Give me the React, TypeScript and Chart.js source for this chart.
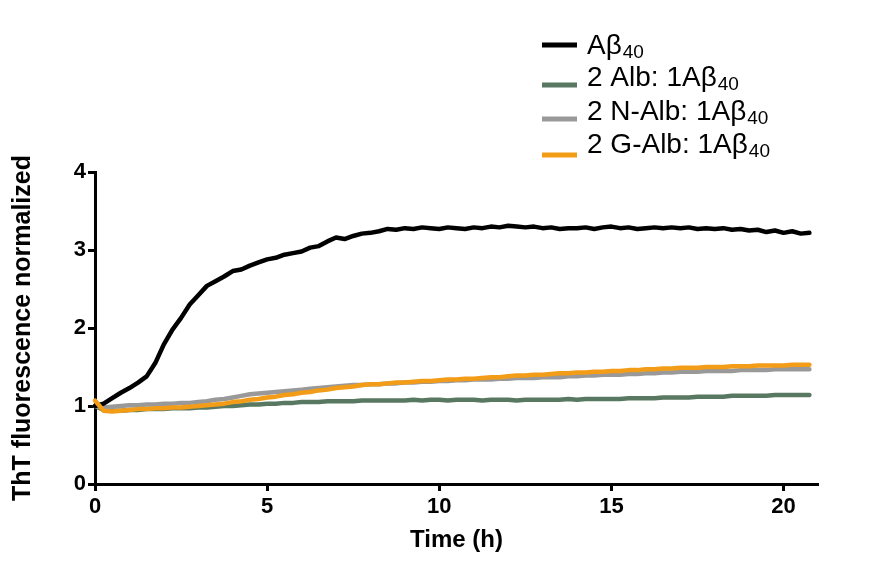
import React, { useEffect, useRef } from "react";
import { Chart, registerables } from "chart.js";

Chart.register(...registerables);

// Time (h)
const times = [
  0, 0.25, 0.5, 0.75, 1, 1.25, 1.5, 1.75, 2, 2.25, 2.5, 2.75, 3, 3.25, 3.5, 3.75,
  4, 4.25, 4.5, 4.75, 5, 5.25, 5.5, 5.75, 6, 6.25, 6.5, 6.75, 7, 7.25, 7.5, 7.75,
  8, 8.25, 8.5, 8.75, 9, 9.25, 9.5, 9.75, 10, 10.25, 10.5, 10.75, 11, 11.25, 11.5, 11.75,
  12, 12.25, 12.5, 12.75, 13, 13.25, 13.5, 13.75, 14, 14.25, 14.5, 14.75, 15, 15.25, 15.5, 15.75,
  16, 16.25, 16.5, 16.75, 17, 17.25, 17.5, 17.75, 18, 18.25, 18.5, 18.75, 19, 19.25, 19.5, 19.75,
  20, 20.25, 20.5, 20.75,
];

const abeta40 = [
  1.0, 1.03, 1.1, 1.17, 1.23, 1.3, 1.38, 1.55, 1.79, 1.98, 2.13, 2.3, 2.42, 2.54, 2.6, 2.66,
  2.73, 2.75, 2.8, 2.84, 2.88, 2.9, 2.94, 2.96, 2.98, 3.03, 3.05, 3.11, 3.16, 3.14, 3.18, 3.21,
  3.22, 3.24, 3.27, 3.26, 3.28, 3.27, 3.29, 3.28, 3.27, 3.29, 3.28, 3.27, 3.29, 3.28, 3.3, 3.29,
  3.31, 3.3, 3.29, 3.3, 3.28, 3.29, 3.27, 3.28, 3.28, 3.29, 3.27, 3.29, 3.3, 3.28, 3.29, 3.27,
  3.28, 3.29, 3.28, 3.29, 3.28, 3.29, 3.27, 3.28, 3.27, 3.28, 3.26, 3.27, 3.25, 3.26, 3.23, 3.25,
  3.22, 3.24, 3.21, 3.22,
];

const alb = [
  1.0, 0.95, 0.94, 0.94, 0.95, 0.95, 0.96, 0.96, 0.96, 0.97, 0.97, 0.97, 0.98, 0.98, 0.99, 1.0,
  1.0, 1.01, 1.02, 1.02, 1.03, 1.03, 1.04, 1.04, 1.05, 1.05, 1.05, 1.06, 1.06, 1.06, 1.06, 1.07,
  1.07, 1.07, 1.07, 1.07, 1.07, 1.08, 1.07, 1.08, 1.08, 1.07, 1.08, 1.08, 1.08, 1.07, 1.08, 1.08,
  1.08, 1.07, 1.08, 1.08, 1.08, 1.08, 1.08, 1.09, 1.08, 1.09, 1.09, 1.09, 1.09, 1.09, 1.1, 1.1,
  1.1, 1.1, 1.11, 1.11, 1.11, 1.11, 1.12, 1.12, 1.12, 1.12, 1.13, 1.13, 1.13, 1.13, 1.13, 1.14,
  1.14, 1.14, 1.14, 1.14,
];

const nAlb = [
  1.0, 0.98, 0.99, 1.0, 1.01, 1.01, 1.02, 1.02, 1.03, 1.03, 1.04, 1.04, 1.05, 1.06, 1.08, 1.09,
  1.11, 1.13, 1.15, 1.16, 1.17, 1.18, 1.19, 1.2, 1.21, 1.22, 1.23, 1.24, 1.25, 1.26, 1.27, 1.27,
  1.28, 1.28, 1.29, 1.29, 1.3, 1.3, 1.31, 1.31, 1.32, 1.32, 1.33, 1.33, 1.34, 1.34, 1.34, 1.35,
  1.35, 1.36, 1.36, 1.36, 1.37, 1.37, 1.37, 1.38, 1.38, 1.39, 1.39, 1.4, 1.4, 1.4, 1.41, 1.41,
  1.42, 1.42, 1.43, 1.43, 1.44, 1.44, 1.44, 1.45, 1.45, 1.45, 1.45, 1.46, 1.46, 1.46, 1.46, 1.47,
  1.47, 1.47, 1.47, 1.47,
];

const gAlb = [
  1.07, 0.94, 0.93, 0.94, 0.95, 0.96, 0.96, 0.97, 0.97, 0.98, 0.98, 0.99, 1.0, 1.01, 1.02, 1.03,
  1.05, 1.06, 1.08, 1.09, 1.11, 1.12, 1.14, 1.15, 1.17, 1.18, 1.2, 1.21, 1.23, 1.24, 1.25, 1.27,
  1.28, 1.28, 1.29, 1.3, 1.3, 1.31, 1.32, 1.32, 1.33, 1.34, 1.34, 1.35, 1.35, 1.36, 1.37, 1.37,
  1.38, 1.39, 1.39, 1.4, 1.4, 1.41, 1.42, 1.42, 1.43, 1.43, 1.44, 1.44, 1.45, 1.45, 1.46, 1.46,
  1.47, 1.47, 1.48, 1.48, 1.49, 1.49, 1.49, 1.5, 1.5, 1.5, 1.51, 1.51, 1.51, 1.52, 1.52, 1.52,
  1.52, 1.53, 1.53, 1.53,
];

const seriesLabels = ["Aβ", "2 Alb: 1Aβ", "2 N-Alb: 1Aβ", "2 G-Alb: 1Aβ"];
const seriesSubscripts = ["40", "40", "40", "40"];
const seriesColors = ["#000000", "#597862", "#999999", "#f39c17"];
const xTitle = "Time (h)";
const yTitle = "ThT fluorescence normalized";

const FONT = '"Liberation Sans", Arial, Helvetica, sans-serif';

const subLegend = {
  id: "subLegend",
  afterDraw(chart: any) {
    const ctx = chart.ctx;
    const lineY = [45, 85, 119, 155];
    const baseY = [54, 86, 120, 153];
    ctx.save();
    seriesLabels.forEach((lab, i) => {
      ctx.strokeStyle = seriesColors[i];
      ctx.lineWidth = 5;
      ctx.lineCap = "butt";
      ctx.beginPath();
      ctx.moveTo(542, lineY[i]);
      ctx.lineTo(577, lineY[i]);
      ctx.stroke();
      ctx.fillStyle = "#000";
      ctx.textAlign = "left";
      ctx.textBaseline = "alphabetic";
      ctx.font = `28px ${FONT}`;
      ctx.fillText(lab, 587, baseY[i]);
      const w = ctx.measureText(lab).width;
      ctx.font = `19px ${FONT}`;
      ctx.fillText(seriesSubscripts[i], 587 + w + 1, baseY[i] + 4);
    });
    ctx.restore();
  },
};

export default function App() {
  const ref = useRef<HTMLCanvasElement | null>(null);

  useEffect(() => {
    if (!ref.current) return;
    const series = [abeta40, alb, nAlb, gAlb];
    const orders = [1, 3, 2, 0];
    const chart = new Chart(ref.current, {
      type: "line",
      data: {
        datasets: series.map((vals, si) => ({
          label: seriesLabels[si] + seriesSubscripts[si],
          data: times.map((t, i) => ({ x: t, y: vals[i] })),
          borderColor: seriesColors[si],
          backgroundColor: seriesColors[si],
          borderWidth: 4.5,
          pointRadius: 0,
          tension: 0,
          fill: false,
          clip: false as any,
          order: orders[si],
          borderJoinStyle: "round" as const,
          borderCapStyle: "round" as const,
        })),
      },
      options: {
        responsive: false,
        animation: false,
        devicePixelRatio: 1,
        layout: { padding: { top: 172, right: 57, bottom: 0, left: 0 } },
        plugins: { legend: { display: false }, tooltip: { enabled: false } },
        scales: {
          x: {
            type: "linear",
            min: 0,
            max: 21,
            afterFit: (s: any) => {
              s.height = 88;
            },
            ticks: {
              stepSize: 5,
              includeBounds: false,
              color: "#000",
              padding: 3,
              maxRotation: 0,
              font: { family: FONT, size: 22, weight: "bold" },
            },
            grid: {
              display: true,
              drawOnChartArea: false,
              drawTicks: true,
              tickLength: 7,
              tickWidth: 3,
              tickColor: "#000",
              color: "#000",
            },
            border: { display: true, color: "#000", width: 3 },
            title: {
              display: true,
              text: xTitle,
              color: "#000",
              font: { family: FONT, size: 24, weight: "bold" },
              padding: { top: 0, bottom: 17 },
            },
          },
          y: {
            type: "linear",
            min: 0,
            max: 4,
            afterFit: (s: any) => {
              s.width = 95;
            },
            ticks: {
              stepSize: 1,
              color: "#000",
              padding: 2,
              font: { family: FONT, size: 22, weight: "bold" },
            },
            grid: {
              display: true,
              drawOnChartArea: false,
              drawTicks: true,
              tickLength: 7,
              tickWidth: 3,
              tickColor: "#000",
              color: "#000",
            },
            border: { display: true, color: "#000", width: 3 },
            title: {
              display: true,
              text: yTitle,
              color: "#000",
              font: { family: FONT, size: 25, weight: "bold" },
              padding: { top: 8, bottom: 0 },
            },
          },
        },
      },
      plugins: [subLegend],
    });
    return () => chart.destroy();
  }, []);

  return (
    <div style={{ position: "absolute", left: 0, top: 0, width: 875, height: 572, background: "#fff" }}>
      <canvas ref={ref} width={875} height={572} style={{ display: "block" }} />
    </div>
  );
}
